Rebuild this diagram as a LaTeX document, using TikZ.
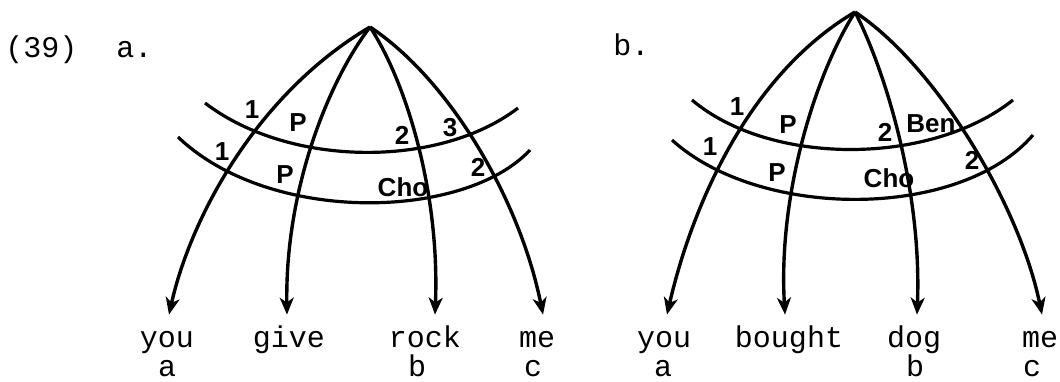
\documentclass[tikz,border=0pt]{standalone}
\usepackage{fontspec}
\setmonofont{Liberation Mono}
\setsansfont{Liberation Sans}
\usetikzlibrary{arrows.meta}

\begin{document}
\begin{tikzpicture}[x=0.5pt,y=-0.5pt]
\useasboundingbox (0,0) rectangle (1060,381);
\tikzstyle{every node}=[inner sep=0pt]
\tikzstyle{word}=[font=\fontsize{15}{18}\ttfamily,anchor=base,text height=9pt,text depth=3pt,inner ysep=7pt]
\tikzstyle{idx}=[font=\fontsize{15}{18}\ttfamily,anchor=base]
\tikzstyle{rel}=[font=\fontsize{13}{15}\sffamily\bfseries]
\tikzstyle{arc}=[line width=1.7pt,-{Stealth[length=8.5pt,width=7pt,inset=2.5pt]}]
\tikzstyle{stratum}=[line width=1.6pt]

% (39a)
\node[idx,anchor=base west] (num) at (5,57) {(39)};
\node[idx,anchor=base west] (laba) at (116,57) {a.};
\coordinate (topa) at (370,27);
\node[word] (youa) at (167,347) {you};
\node[word] (givea) at (289,347) {give};
\node[word] (rocka) at (425,347) {rock};
\node[word] (mea) at (537,347) {me};
\node[idx] (ia) at (167,376) {a};
\node[idx] (ib) at (417,376) {b};
\node[idx] (ic) at (533,376) {c};
\draw[arc] (topa) .. controls (255,95) and (190,220) .. ([xshift=1pt]youa.north);
\draw[arc] (topa) .. controls (328,82) and (285,190) .. ([xshift=-1pt]givea.north);
\draw[arc] (topa) .. controls (405,80) and (440,190) .. ([xshift=5pt]rocka.north);
\draw[arc] (topa) .. controls (450,80) and (520,200) .. ([xshift=3pt]mea.north);
\draw[stratum] (205,103) .. controls (290,168) and (440,168) .. (518,108);
\draw[stratum] (178,137) .. controls (270,225) and (465,220) .. (530,150);
\node[rel] (a1) at (252,110) {1};
\node[rel] (aP) at (298,123) {P};
\node[rel] (a2) at (402,135) {2};
\node[rel] (a3) at (450,128) {3};
\node[rel] (a1l) at (222,152) {1};
\node[rel] (aPl) at (285,175) {P};
\node[rel] (aCho) at (403,187) {Cho};
\node[rel] (a2l) at (478,167) {2};

% (39b)
\node[idx,anchor=base west] (labb) at (613,55) {b.};
\coordinate (topb) at (855,12);
\node[word] (youb) at (664,347) {you};
\node[word] (boughtb) at (789,347) {bought};
\node[word] (dogb) at (914,347) {dog};
\node[word] (meb) at (1040,347) {me};
\node[idx] (ja) at (663,376) {a};
\node[idx] (jb) at (915,376) {b};
\node[idx] (jc) at (1032,376) {c};
\draw[arc] (topb) .. controls (740,80) and (688,223) .. ([xshift=1.5pt]youb.north);
\draw[arc] (topb) .. controls (815,75) and (778,195) .. ([xshift=-2pt]boughtb.north);
\draw[arc] (topb) .. controls (885,70) and (922,190) .. ([xshift=1.5pt]dogb.north);
\draw[arc] (topb) .. controls (935,65) and (1019,203) .. ([xshift=1pt]meb.north);
\draw[stratum] (692,100) .. controls (770,166) and (930,166) .. (1013,100);
\draw[stratum] (672,140) .. controls (760,220) and (960,220) .. (1033,135);
\node[rel] (b1) at (737,107) {1};
\node[rel] (bP) at (788,125) {P};
\node[rel] (b2) at (885,132) {2};
\node[rel] (bBen) at (931,124) {Ben};
\node[rel] (b1l) at (710,147) {1};
\node[rel] (bPl) at (777,173) {P};
\node[rel] (bCho) at (889,178) {Cho};
\node[rel] (b2l) at (972,160) {2};
\end{tikzpicture}
\end{document}
